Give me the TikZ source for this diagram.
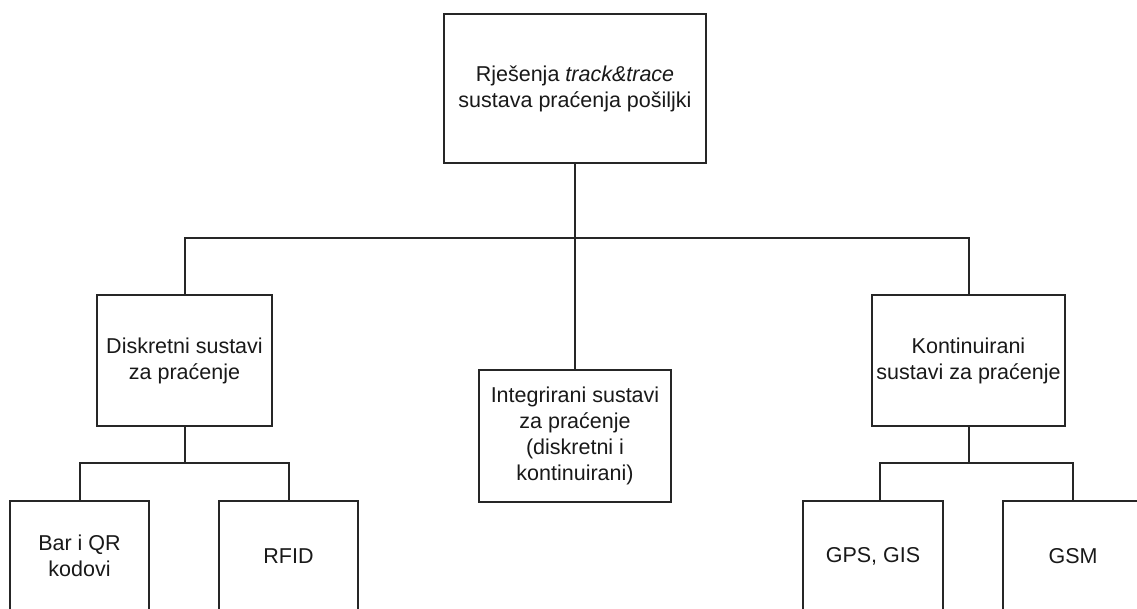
\documentclass[tikz,border=0pt]{standalone}
\usepackage{fontspec}
\setmainfont{Liberation Sans}
\begin{document}
\begin{tikzpicture}[x=1pt,y=-1pt,
  box/.style={draw=black!85, line width=2pt, fill=white, align=center, inner sep=0pt,
    font=\fontsize{21.5}{26}\selectfont, text=black!90},
  conn/.style={draw=black!85, line width=2pt}]
\path[use as bounding box, clip] (0,0) rectangle (1137,609);
\fill[white] (0,0) rectangle (1137,609);
% nodes
\node[box, minimum width=262pt, minimum height=149pt] (top) at (575,88.5)
  {Rješenja \textit{track\&trace}\\sustava praćenja pošiljki};
\node[box, minimum width=175pt, minimum height=131pt] (disk) at (184.5,360.5)
  {Diskretni sustavi\\za praćenje};
\node[box, minimum width=192pt, minimum height=132pt] (integ) at (575,436)
  {Integrirani sustavi\\za praćenje\\(diskretni i\\kontinuirani)};
\node[box, minimum width=193pt, minimum height=131pt] (kont) at (968.5,360.5)
  {Kontinuirani\\sustavi za praćenje};
\node[box, minimum width=139pt, minimum height=110pt] (bar) at (79.5,556)
  {Bar i QR\\kodovi};
\node[box, minimum width=139pt, minimum height=110pt] (rfid) at (288.5,556)
  {RFID};
\node[box, minimum width=140pt, minimum height=110pt] (gps) at (873,556)
  {GPS, GIS};
\node[box, minimum width=140pt, minimum height=110pt] (gsm) at (1073,556)
  {GSM};
% junctions
\coordinate (j1) at (575,238.5);
\coordinate (j2) at (184.5,463);
\coordinate (j3) at (968.5,463);
\coordinate (gpsin) at (880,501);
% connectors
\draw[conn] (top.south) -- (j1);
\draw[conn] (j1) -| (disk.north);
\draw[conn] (j1) -| (kont.north);
\draw[conn] (j1) -- (integ.north);
\draw[conn] (disk.south) -- (j2);
\draw[conn] (j2) -| (bar.north);
\draw[conn] (j2) -| (rfid.north);
\draw[conn] (kont.south) -- (j3);
\draw[conn] (j3) -| (gpsin);
\draw[conn] (j3) -| (gsm.north);
\end{tikzpicture}
\end{document}
